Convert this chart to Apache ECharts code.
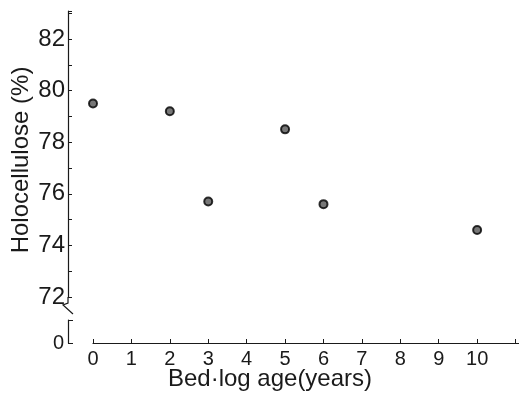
<!DOCTYPE html>
<html>
<head>
<meta charset="utf-8">
<script src="https://cdn.jsdelivr.net/npm/echarts@6/dist/echarts.min.js"></script>
<style>
html,body{margin:0;padding:0;background:#fff;}
#c{width:519px;height:393px;}
</style>
</head>
<body>
<div id="c"></div>
<script>
var ages = [0, 2, 3, 5, 6, 10];
var holocellulose = [79.5, 79.2, 75.7, 78.5, 75.6, 74.6];
var yTitle = 'Holocellulose (%)';
var xTitle = 'Bed·log age(years)';

var ink = '#1a1a1a';
var font = 'Liberation Sans, Arial, sans-serif';
var chart = echarts.init(document.getElementById('c'), null, {renderer: 'canvas'});
chart.setOption({
  backgroundColor: '#fff',
  animation: false,
  grid: [
    {left: 68, right: 0, top: 11, height: 286, containLabel: false, outerBoundsMode: 'none'},
    {left: 68, width: 10, top: 320, height: 23, containLabel: false, outerBoundsMode: 'none'},
    {left: 93, right: 0, top: 320, height: 23, containLabel: false, outerBoundsMode: 'none'}
  ],
  xAxis: [
    {gridIndex: 0, type: 'value', min: -0.651, max: 11.09, show: false},
    {gridIndex: 1, type: 'value', min: 0, max: 1, show: false},
    {gridIndex: 2, type: 'value', min: 0, max: 11.09, interval: 1,
     axisLine: {show: true, onZero: false, lineStyle: {color: ink, width: 1.2}},
     axisTick: {show: true, inside: true, length: 4, lineStyle: {color: ink}},
     splitLine: {show: false},
     axisLabel: {color: ink, fontSize: 20, fontFamily: font, margin: 6,
       formatter: function (v) { return (Number.isInteger(v) && v <= 10) ? String(v) : ''; }},
     name: xTitle, nameLocation: 'middle', nameGap: 24, nameMoveOverlap: false,
     nameTextStyle: {color: ink, fontSize: 24, fontFamily: font, padding: [0, 72, 0, 0]}
    }
  ],
  yAxis: [
    {gridIndex: 0, type: 'value', min: 72, max: 83.09, interval: 1,
     axisLine: {show: true, onZero: false, lineStyle: {color: ink, width: 1.2}},
     axisTick: {show: true, inside: true, length: 4, lineStyle: {color: ink}},
     splitLine: {show: false},
     axisLabel: {color: ink, fontSize: 24, fontFamily: font, margin: 3,
       formatter: function (v) { return (Number.isInteger(v) && v % 2 === 0) ? String(v) : ''; }},
     name: yTitle, nameLocation: 'middle', nameGap: 35, nameMoveOverlap: false,
     nameTextStyle: {color: ink, fontSize: 24, fontFamily: font, padding: [0, 12, 0, 0]}
    },
    {gridIndex: 1, type: 'value', min: 0, max: 1, interval: 1,
     axisLine: {show: true, onZero: false, lineStyle: {color: ink, width: 1.2}},
     axisTick: {show: true, inside: true, length: 5, lineStyle: {color: ink}},
     splitLine: {show: false},
     axisLabel: {color: ink, fontSize: 20, fontFamily: font, margin: 4,
       formatter: function (v) { return v === 0 ? '0' : ''; }}
    },
    {gridIndex: 2, type: 'value', min: 0, max: 1, show: false}
  ],
  graphic: [
    {type: 'polyline', shape: {points: [[68, 297], [68, 303], [63, 305], [73, 314]]},
     style: {stroke: ink, lineWidth: 1.2, fill: null}}
  ],
  series: [
    {type: 'scatter', xAxisIndex: 0, yAxisIndex: 0,
     data: ages.map(function (a, i) { return [a, holocellulose[i]]; }),
     symbol: 'circle', symbolSize: 8,
     itemStyle: {color: '#555', borderColor: '#000', borderWidth: 2}
    }
  ]
});
</script>
</body>
</html>
